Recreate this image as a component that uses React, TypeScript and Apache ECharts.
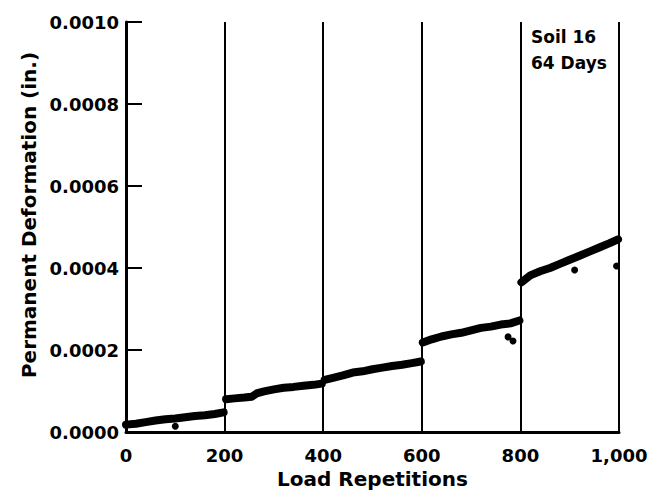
import React, { useEffect, useRef } from "react";
import * as echarts from "echarts";

const xTicks = [0, 200, 400, 600, 800, 1000];
const yTicks = [0, 0.0002, 0.0004, 0.0006, 0.0008, 0.001];

const seg1X = [0, 20, 40, 60, 80, 100, 120, 140, 160, 180, 198];
const seg1Y = [0.000018, 0.00002, 0.000024, 0.000028, 0.000031, 0.000033, 0.000036, 0.000039, 0.000041, 0.000044, 0.000048];
const seg2X = [203, 220, 240, 255, 265, 280, 300, 320, 340, 360, 380, 397];
const seg2Y = [0.00008, 0.000082, 0.000084, 0.000086, 0.000094, 0.000099, 0.000104, 0.000108, 0.00011, 0.000113, 0.000115, 0.000118];
const seg3X = [403, 420, 440, 460, 480, 500, 520, 540, 560, 580, 598];
const seg3Y = [0.000127, 0.000132, 0.000138, 0.000145, 0.000148, 0.000153, 0.000157, 0.000161, 0.000164, 0.000168, 0.000172];
const seg4X = [602, 620, 640, 660, 680, 700, 720, 740, 760, 780, 798];
const seg4Y = [0.000218, 0.000226, 0.000233, 0.000238, 0.000242, 0.000248, 0.000254, 0.000257, 0.000262, 0.000265, 0.000272];
const seg5X = [802, 820, 840, 860, 880, 900, 920, 940, 960, 980, 998];
const seg5Y = [0.000365, 0.000382, 0.000392, 0.0004, 0.00041, 0.00042, 0.00043, 0.00044, 0.00045, 0.00046, 0.00047];
const outlierX = [100, 775, 785, 910, 995];
const outlierY = [0.000014, 0.000232, 0.000222, 0.000395, 0.000405];

const segments = [
  [seg1X, seg1Y],
  [seg2X, seg2Y],
  [seg3X, seg3Y],
  [seg4X, seg4Y],
  [seg5X, seg5Y],
];

const FONT = "DejaVu Sans";

export default function App() {
  const ref = useRef<HTMLDivElement>(null);
  useEffect(() => {
    if (!ref.current) return;
    const chart = echarts.init(ref.current, null, { renderer: "svg" });
    const series: any[] = segments.map(([xs, ys]) => ({
      type: "line",
      data: xs.map((x, i) => [x, ys[i]]),
      showSymbol: false,
      symbol: "none",
      lineStyle: { color: "#000", width: 8, cap: "round", join: "round" },
      z: 3,
    }));
    series.push({
      type: "scatter",
      data: outlierX.map((x, i) => [x, outlierY[i]]),
      symbolSize: 7,
      itemStyle: { color: "#000", opacity: 1 },
      z: 3,
    });
    chart.setOption({
      animation: false,
      backgroundColor: "#fff",
      grid: { left: 126, right: 34, top: 22, bottom: 66 },
      xAxis: {
        type: "value",
        min: 0,
        max: 1000,
        interval: 200,
        name: "Load Repetitions",
        nameLocation: "middle",
        nameGap: 37,
        nameTextStyle: { fontFamily: FONT, fontWeight: "bold", fontSize: 20, color: "#000" },
        axisLine: { show: true, lineStyle: { color: "#000", width: 3 } },
        axisTick: { show: false },
        splitLine: { show: true, showMinLine: true, showMaxLine: true, lineStyle: { color: "#000", width: 2, type: "solid" } },
        axisLabel: {
          margin: 14,
          fontFamily: FONT,
          fontWeight: "bold",
          fontSize: 18,
          color: "#000",
          formatter: (v: number) => v.toLocaleString("en-US"),
        },
      },
      yAxis: {
        type: "value",
        min: 0,
        max: 0.001,
        interval: 0.0002,
        axisLine: { show: true, lineStyle: { color: "#000", width: 3 } },
        axisTick: { show: true, inside: true, length: 16, lineStyle: { color: "#000", width: 2 } },
        splitLine: { show: false },
        axisLabel: {
          margin: 7,
          fontFamily: FONT,
          fontWeight: "bold",
          fontSize: 18,
          color: "#000",
          formatter: (v: number) => v.toFixed(4),
        },
      },
      graphic: [
        {
          type: "text",
          x: 29,
          y: 215,
          rotation: Math.PI / 2,
          style: {
            text: "Permanent Deformation (in.)",
            fontFamily: FONT,
            fontWeight: "bold",
            fontSize: 20,
            fill: "#000",
            align: "center",
            verticalAlign: "middle",
          },
        },
        {
          type: "text",
          left: 531,
          top: 24,
          style: {
            text: "Soil 16\n64 Days",
            fontFamily: FONT,
            fontWeight: "bold",
            fontSize: 17,
            lineHeight: 26,
            fill: "#000",
          },
        },
      ],
      series,
    });
    return () => chart.dispose();
  }, []);
  return (
    <div
      ref={ref}
      style={{ position: "fixed", left: 0, top: 0, width: 653, height: 498, background: "#fff" }}
    />
  );
}
